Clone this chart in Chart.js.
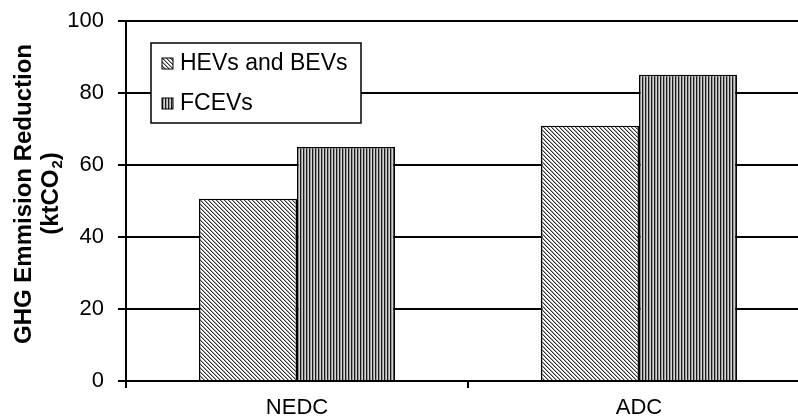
<!DOCTYPE html>
<html>
<head>
<meta charset="utf-8">
<script src="https://cdn.jsdelivr.net/npm/chart.js@4"></script>
<style>
  html, body { margin: 0; padding: 0; background: #fff; overflow: hidden; }
  #wrap { width: 798px; height: 419px; overflow: hidden; }
</style>
</head>
<body>
<div id="wrap"><canvas id="ghg" width="812" height="419"></canvas></div>
<script>
// data
const categories = ["NEDC", "ADC"];
const hevBev = [50.6, 70.9];
const fcev = [65.0, 85.1];
const seriesNames = ["HEVs and BEVs", "FCEVs"];
const yTicks = [0, 20, 40, 60, 80, 100];

const FONT = "'Liberation Sans', Arial, sans-serif";

// hatch fills
function diagPattern() {
  const c = document.createElement("canvas");
  c.width = 4; c.height = 4;
  const g = c.getContext("2d");
  g.fillStyle = "#fff"; g.fillRect(0, 0, 4, 4);
  for (let i = 0; i < 4; i++) {
    g.fillStyle = "#333"; g.fillRect(i, i, 1, 1);
    g.fillStyle = "#aaa"; g.fillRect((i + 1) % 4, i, 1, 1);
  }
  return g.createPattern(c, "repeat");
}
function vertPattern() {
  const c = document.createElement("canvas");
  c.width = 3; c.height = 1;
  const g = c.getContext("2d");
  g.fillStyle = "#1a1a1a"; g.fillRect(0, 0, 1, 1);
  g.fillStyle = "#999"; g.fillRect(1, 0, 1, 1);
  g.fillStyle = "#d4d4d4"; g.fillRect(2, 0, 1, 1);
  return g.createPattern(c, "repeat");
}
const fills = [diagPattern(), vertPattern()];

// legend box inside the plot
const boxLegend = {
  id: "boxLegend",
  afterDraw(chart) {
    const ctx = chart.ctx, a = chart.chartArea;
    const x = a.left + 25, y = a.top + 22;
    ctx.save();
    ctx.fillStyle = "#fff";
    ctx.fillRect(x, y, 210, 80);
    ctx.strokeStyle = "#000"; ctx.lineWidth = 1.5;
    ctx.strokeRect(x, y, 210, 80);
    ctx.font = "23px " + FONT;
    ctx.textBaseline = "middle";
    chart.data.datasets.forEach((ds, i) => {
      const cy = y + 20 + i * 40;
      ctx.fillStyle = ds.backgroundColor;
      ctx.fillRect(x + 11, cy - 5, 11, 11);
      ctx.lineWidth = 1; ctx.strokeStyle = "#000";
      ctx.strokeRect(x + 11, cy - 5, 11, 11);
      ctx.fillStyle = "#000";
      ctx.fillText(ds.label, x + 29, cy + 1);
    });
    ctx.restore();
  }
};

// y axis title with subscript
const yTitle = {
  id: "yTitle",
  afterDraw(chart) {
    const ctx = chart.ctx;
    ctx.save();
    ctx.translate(0, 194);
    ctx.rotate(-Math.PI / 2);
    ctx.fillStyle = "#000";
    ctx.textBaseline = "middle";
    ctx.font = "bold 24px " + FONT;
    ctx.textAlign = "center";
    ctx.fillText("GHG Emmision Reduction", 0, 24);
    const a = "(ktCO", b = "2", c = ")";
    const wa = ctx.measureText(a).width, wc = ctx.measureText(c).width;
    ctx.font = "bold 15px " + FONT;
    const wb = ctx.measureText(b).width;
    let sx = -(wa + wb + wc) / 2;
    ctx.textAlign = "left";
    ctx.font = "bold 24px " + FONT;
    ctx.fillText(a, sx, 51);
    ctx.font = "bold 15px " + FONT;
    ctx.fillText(b, sx + wa + 1, 58);
    ctx.font = "bold 24px " + FONT;
    ctx.fillText(c, sx + wa + wb + 1, 51);
    ctx.restore();
  }
};

new Chart("ghg", {
  type: "bar",
  data: {
    labels: categories,
    datasets: [
      {
        label: seriesNames[0],
        data: hevBev,
        backgroundColor: fills[0],
        borderColor: "#000",
        borderWidth: 1.5,
      },
      {
        label: seriesNames[1],
        data: fcev,
        backgroundColor: fills[1],
        borderColor: "#000",
        borderWidth: 1.5,
      },
    ],
  },
  plugins: [boxLegend, yTitle],
  options: {
    responsive: false,
    animation: false,
    devicePixelRatio: 1,
    layout: { padding: { top: 21, right: 2, left: 0, bottom: 0 } },
    plugins: { legend: { display: false }, tooltip: { enabled: false } },
    datasets: { bar: { categoryPercentage: 0.573, barPercentage: 1 } },
    scales: {
      x: {
        grid: { offset: true, drawOnChartArea: false, drawTicks: true, tickLength: 7, color: "#000", lineWidth: 2 },
        border: { color: "#000", width: 2 },
        ticks: { color: "#000", font: { family: FONT, size: 22 }, padding: 7 },
        afterFit(s) { s.height = 38; s.paddingLeft = 0; s.paddingRight = 0; },
      },
      y: {
        min: 0,
        max: 100,
        afterBuildTicks(s) { s.ticks = yTicks.map(v => ({ value: v })); },
        grid: { color: "#000", lineWidth: 2, tickLength: 8 },
        border: { color: "#000", width: 2 },
        ticks: { color: "#000", font: { family: FONT, size: 22 }, padding: 14 },
        afterFit(s) { s.width = 126; s.paddingTop = 0; s.paddingBottom = 0; },
      },
    },
  },
});
</script>
</body>
</html>
